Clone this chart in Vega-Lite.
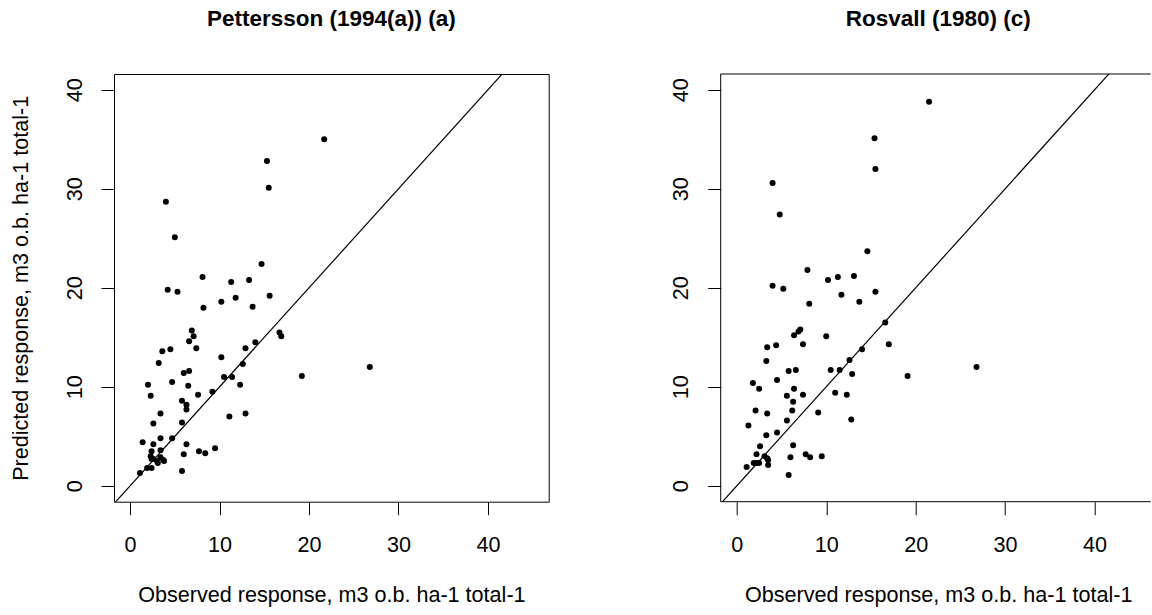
{
  "$schema": "https://vega.github.io/schema/vega-lite/v6.json",
  "background": "white",
  "padding": {"left": 10, "top": 8, "right": 0, "bottom": 0},
  "bounds": "flush",
  "spacing": 171.7,
  "datasets": {
    "pettersson": [
      {"observed": 21.7, "predicted": 35.0}, {"observed": 15.3, "predicted": 32.8}, {"observed": 15.5, "predicted": 30.1},
      {"observed": 4.0, "predicted": 28.7}, {"observed": 5.0, "predicted": 25.1}, {"observed": 14.7, "predicted": 22.4},
      {"observed": 8.1, "predicted": 21.1}, {"observed": 13.3, "predicted": 20.8}, {"observed": 11.3, "predicted": 20.6},
      {"observed": 4.2, "predicted": 19.8}, {"observed": 5.3, "predicted": 19.6}, {"observed": 15.6, "predicted": 19.2},
      {"observed": 11.8, "predicted": 19.0}, {"observed": 10.2, "predicted": 18.6}, {"observed": 13.7, "predicted": 18.1},
      {"observed": 8.2, "predicted": 18.0}, {"observed": 6.9, "predicted": 15.7}, {"observed": 7.1, "predicted": 15.1},
      {"observed": 16.7, "predicted": 15.5}, {"observed": 16.9, "predicted": 15.1}, {"observed": 6.6, "predicted": 14.6},
      {"observed": 14.0, "predicted": 14.5}, {"observed": 3.6, "predicted": 13.6}, {"observed": 4.5, "predicted": 13.8},
      {"observed": 7.4, "predicted": 13.9}, {"observed": 12.9, "predicted": 13.9}, {"observed": 3.2, "predicted": 12.4},
      {"observed": 10.2, "predicted": 13.0}, {"observed": 12.6, "predicted": 12.3}, {"observed": 26.8, "predicted": 12.0},
      {"observed": 6.0, "predicted": 11.4}, {"observed": 6.6, "predicted": 11.6}, {"observed": 19.2, "predicted": 11.1},
      {"observed": 10.5, "predicted": 11.0}, {"observed": 11.4, "predicted": 11.0}, {"observed": 4.7, "predicted": 10.5},
      {"observed": 2.0, "predicted": 10.2}, {"observed": 6.5, "predicted": 10.1}, {"observed": 12.3, "predicted": 10.2},
      {"observed": 9.2, "predicted": 9.5}, {"observed": 2.3, "predicted": 9.1}, {"observed": 7.6, "predicted": 9.2},
      {"observed": 5.8, "predicted": 8.6}, {"observed": 6.3, "predicted": 8.2}, {"observed": 6.3, "predicted": 7.7},
      {"observed": 3.4, "predicted": 7.3}, {"observed": 12.9, "predicted": 7.3}, {"observed": 11.1, "predicted": 7.0},
      {"observed": 5.8, "predicted": 6.4}, {"observed": 2.6, "predicted": 6.3}, {"observed": 3.4, "predicted": 4.8},
      {"observed": 4.7, "predicted": 4.8}, {"observed": 1.4, "predicted": 4.4}, {"observed": 2.6, "predicted": 4.2},
      {"observed": 6.3, "predicted": 4.2}, {"observed": 3.4, "predicted": 3.6}, {"observed": 9.5, "predicted": 3.8},
      {"observed": 7.7, "predicted": 3.5}, {"observed": 8.4, "predicted": 3.3}, {"observed": 2.4, "predicted": 3.5},
      {"observed": 6.0, "predicted": 3.2}, {"observed": 2.3, "predicted": 3.0}, {"observed": 3.4, "predicted": 2.9},
      {"observed": 2.6, "predicted": 2.7}, {"observed": 3.7, "predicted": 2.6}, {"observed": 3.1, "predicted": 2.3},
      {"observed": 3.8, "predicted": 2.5}, {"observed": 1.9, "predicted": 1.8}, {"observed": 2.4, "predicted": 1.8},
      {"observed": 1.1, "predicted": 1.3}, {"observed": 5.8, "predicted": 1.5}, {"observed": 2.4, "predicted": 2.7},
      {"observed": 3.0, "predicted": 2.5}
    ],
    "rosvall": [
      {"observed": 21.5, "predicted": 38.8}, {"observed": 15.4, "predicted": 35.1}, {"observed": 15.5, "predicted": 32.0},
      {"observed": 4.0, "predicted": 30.6}, {"observed": 4.8, "predicted": 27.4}, {"observed": 14.6, "predicted": 23.7},
      {"observed": 7.9, "predicted": 21.8}, {"observed": 13.1, "predicted": 21.2}, {"observed": 11.3, "predicted": 21.1},
      {"observed": 10.2, "predicted": 20.8}, {"observed": 4.0, "predicted": 20.2}, {"observed": 5.2, "predicted": 19.9},
      {"observed": 15.5, "predicted": 19.6}, {"observed": 11.7, "predicted": 19.3}, {"observed": 13.7, "predicted": 18.6},
      {"observed": 8.1, "predicted": 18.4}, {"observed": 7.1, "predicted": 15.8}, {"observed": 6.9, "predicted": 15.6},
      {"observed": 6.4, "predicted": 15.2}, {"observed": 10.0, "predicted": 15.1}, {"observed": 16.6, "predicted": 16.5},
      {"observed": 17.0, "predicted": 14.3}, {"observed": 7.4, "predicted": 14.3}, {"observed": 4.4, "predicted": 14.2},
      {"observed": 3.4, "predicted": 14.0}, {"observed": 14.0, "predicted": 13.8}, {"observed": 3.3, "predicted": 12.6},
      {"observed": 12.6, "predicted": 12.7}, {"observed": 26.8, "predicted": 12.0}, {"observed": 5.8, "predicted": 11.6},
      {"observed": 6.6, "predicted": 11.7}, {"observed": 10.5, "predicted": 11.7}, {"observed": 11.5, "predicted": 11.7},
      {"observed": 12.9, "predicted": 11.3}, {"observed": 19.1, "predicted": 11.1}, {"observed": 4.5, "predicted": 10.7},
      {"observed": 1.8, "predicted": 10.4}, {"observed": 2.5, "predicted": 9.8}, {"observed": 6.4, "predicted": 9.8},
      {"observed": 11.0, "predicted": 9.4}, {"observed": 5.6, "predicted": 9.1}, {"observed": 7.4, "predicted": 9.2},
      {"observed": 12.3, "predicted": 9.2}, {"observed": 6.3, "predicted": 8.5}, {"observed": 2.1, "predicted": 7.6},
      {"observed": 6.2, "predicted": 7.6}, {"observed": 3.4, "predicted": 7.3}, {"observed": 9.1, "predicted": 7.4},
      {"observed": 5.6, "predicted": 6.6}, {"observed": 12.8, "predicted": 6.7}, {"observed": 1.3, "predicted": 6.1},
      {"observed": 3.3, "predicted": 5.1}, {"observed": 4.5, "predicted": 5.4}, {"observed": 2.6, "predicted": 4.0},
      {"observed": 6.3, "predicted": 4.1}, {"observed": 2.2, "predicted": 3.2}, {"observed": 3.1, "predicted": 3.0},
      {"observed": 3.4, "predicted": 2.8}, {"observed": 3.5, "predicted": 2.6}, {"observed": 1.9, "predicted": 2.3},
      {"observed": 2.2, "predicted": 2.3}, {"observed": 2.5, "predicted": 2.3}, {"observed": 3.5, "predicted": 2.1},
      {"observed": 1.1, "predicted": 1.9}, {"observed": 6.0, "predicted": 2.9}, {"observed": 7.7, "predicted": 3.2},
      {"observed": 8.2, "predicted": 2.9}, {"observed": 9.5, "predicted": 3.0}, {"observed": 5.8, "predicted": 1.1}
    ]
  },
  "config": {
    "view": {"stroke": "black", "strokeWidth": 1},
    "font": "Liberation Sans",
    "axis": {
      "domain": false, "grid": false, "ticks": true,
      "tickColor": "black", "tickSize": 13, "tickWidth": 1,
      "labelColor": "black", "labelFont": "Liberation Sans", "labelFontSize": 21.6,
      "labelFlush": false, "labelOverlap": false,
      "titleColor": "black", "titleFont": "Liberation Sans", "titleFontSize": 21.6, "titleFontWeight": "normal"
    },
    "title": {
      "font": "Liberation Sans", "fontSize": 22.5, "fontWeight": "bold", "color": "black",
      "anchor": "middle", "frame": "group", "baseline": "alphabetic", "offset": 43
    }
  },
  "hconcat": [
    {
      "width": 434.7,
      "height": 427.7,
      "title": {"text": "Pettersson (1994(a)) (a)"},
      "layer": [
        {
          "data": {"values": [{}]},
          "mark": {"type": "rule", "clip": true, "color": "black", "strokeWidth": 1.2},
          "encoding": {
            "x": {"datum": -5, "type": "quantitative", "scale": {"domain": [-1.8, 46.8], "nice": false, "zero": false}},
            "y": {"datum": -5, "type": "quantitative", "scale": {"domain": [-1.6, 41.6], "nice": false, "zero": false}},
            "x2": {"datum": 60},
            "y2": {"datum": 60}
          }
        },
        {
          "data": {"name": "pettersson"},
          "mark": {"type": "circle", "size": 36, "color": "black", "opacity": 1},
          "encoding": {
            "x": {
              "field": "observed", "type": "quantitative",
              "scale": {"domain": [-1.8, 46.8], "nice": false, "zero": false},
              "axis": {
                "values": [0, 10, 20, 30, 40],
                "title": "Observed response, m3 o.b. ha-1 total-1",
                "labelBaseline": "alphabetic", "labelPadding": 36.8,
                "titleBaseline": "alphabetic", "titleY": 99.8
              }
            },
            "y": {
              "field": "predicted", "type": "quantitative",
              "scale": {"domain": [-1.6, 41.6], "nice": false, "zero": false},
              "axis": {
                "values": [0, 10, 20, 30, 40],
                "title": "Predicted response, m3 o.b. ha-1 total-1",
                "labelAngle": 270, "labelAlign": "center", "labelBaseline": "alphabetic", "labelPadding": 19.8,
                "titleAngle": 270, "titleAlign": "center", "titleBaseline": "alphabetic", "titleX": -86.3
              }
            }
          }
        }
      ]
    },
    {
      "width": 430,
      "height": 427.7,
      "view": {"stroke": null},
      "title": {"text": "Rosvall (1980) (c)", "dx": 2.5},
      "layer": [
        {
          "data": {"values": [{}]},
          "mark": {"type": "rule", "clip": true, "color": "black", "strokeWidth": 1.2},
          "encoding": {
            "x": {"datum": -5, "type": "quantitative", "scale": {"domain": [-1.8, 46.28], "nice": false, "zero": false}},
            "y": {"datum": -5, "type": "quantitative", "scale": {"domain": [-1.6, 41.6], "nice": false, "zero": false}},
            "x2": {"datum": 60},
            "y2": {"datum": 60}
          }
        },
        {
          "data": {"values": [{}]},
          "mark": {"type": "rule", "color": "black", "strokeWidth": 1},
          "encoding": {
            "x": {"datum": -1.8, "type": "quantitative", "scale": {"domain": [-1.8, 46.28], "nice": false, "zero": false}},
            "x2": {"datum": 46.28},
            "y": {"datum": 41.6, "type": "quantitative", "scale": {"domain": [-1.6, 41.6], "nice": false, "zero": false}}
          }
        },
        {
          "data": {"values": [{}]},
          "mark": {"type": "rule", "color": "black", "strokeWidth": 1},
          "encoding": {
            "x": {"datum": -1.8, "type": "quantitative", "scale": {"domain": [-1.8, 46.28], "nice": false, "zero": false}},
            "x2": {"datum": 46.28},
            "y": {"datum": -1.6, "type": "quantitative", "scale": {"domain": [-1.6, 41.6], "nice": false, "zero": false}}
          }
        },
        {
          "data": {"values": [{}]},
          "mark": {"type": "rule", "color": "black", "strokeWidth": 1},
          "encoding": {
            "x": {"datum": -1.8, "type": "quantitative", "scale": {"domain": [-1.8, 46.28], "nice": false, "zero": false}},
            "y": {"datum": -1.6, "type": "quantitative", "scale": {"domain": [-1.6, 41.6], "nice": false, "zero": false}},
            "y2": {"datum": 41.6}
          }
        },
        {
          "data": {"name": "rosvall"},
          "mark": {"type": "circle", "size": 36, "color": "black", "opacity": 1},
          "encoding": {
            "x": {
              "field": "observed", "type": "quantitative",
              "scale": {"domain": [-1.8, 46.28], "nice": false, "zero": false},
              "axis": {
                "values": [0, 10, 20, 30, 40],
                "title": "Observed response, m3 o.b. ha-1 total-1",
                "labelBaseline": "alphabetic", "labelPadding": 36.8,
                "titleBaseline": "alphabetic", "titleY": 99.8, "titleX": 217.5
              }
            },
            "y": {
              "field": "predicted", "type": "quantitative",
              "scale": {"domain": [-1.6, 41.6], "nice": false, "zero": false},
              "axis": {
                "values": [0, 10, 20, 30, 40],
                "title": null,
                "labelAngle": 270, "labelAlign": "center", "labelBaseline": "alphabetic", "labelPadding": 19.8
              }
            }
          }
        }
      ]
    }
  ]
}
